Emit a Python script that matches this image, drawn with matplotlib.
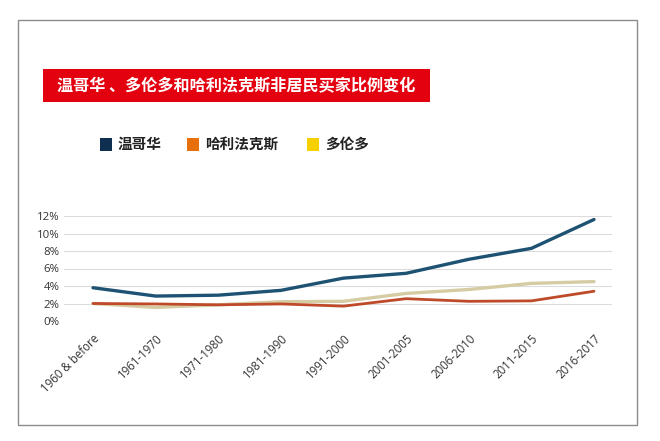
import numpy as np
import matplotlib
matplotlib.use('Agg')
import matplotlib.pyplot as plt
from matplotlib.patches import Rectangle
from matplotlib.transforms import ScaledTranslation

plt.rcParams['font.family'] = ['Noto Sans CJK SC', 'DejaVu Sans']

TITLE = '温哥华 、多伦多和哈利法克斯非居民买家比例变化'
PERIODS = ['1960 & before', '1961-1970', '1971-1980', '1981-1990', '1991-2000',
           '2001-2005', '2006-2010', '2011-2015', '2016-2017']
VANCOUVER = [3.8, 2.85, 2.95, 3.5, 4.9, 5.45, 7.05, 8.3, 11.6]
HALIFAX = [2.0, 1.95, 1.85, 1.95, 1.7, 2.55, 2.25, 2.3, 3.4]
TORONTO = [2.0, 1.55, 1.85, 2.2, 2.25, 3.15, 3.6, 4.3, 4.5]
LEGEND_NAMES = ['温哥华', '哈利法克斯', '多伦多']
YTICKS = [0, 2, 4, 6, 8, 10, 12]

LINE_COLORS = ['#1d5273', '#bf4a2a', '#d6cca3']
LEGEND_COLORS = ['#0e2f4f', '#e8700c', '#f7d000']

W, H = 660, 441
fig = plt.figure(figsize=(W / 100, H / 100), dpi=100)
fig.patch.set_facecolor('white')

# outer frame
fig.add_artist(Rectangle((18 / W, 1 - 425 / H), (637 - 18) / W, (425 - 20) / H,
                         transform=fig.transFigure, fill=False,
                         edgecolor='#8c8c8c', linewidth=1.0))

# red title bar
fig.add_artist(Rectangle((43 / W, 1 - 102 / H), (430 - 43) / W, 33 / H,
                         transform=fig.transFigure, facecolor='#e3000f',
                         edgecolor='none'))
fig.text(236 / W, 1 - 86 / H, TITLE, color='white', fontsize=11.6,
         fontweight='bold', ha='center', va='center')

# legend
leg_x = [100, 187, 307]
for name, col, x in zip(LEGEND_NAMES, LEGEND_COLORS, leg_x):
    fig.add_artist(Rectangle((x / W, 1 - 151 / H), 12 / W, 13 / H,
                             transform=fig.transFigure, facecolor=col,
                             edgecolor='none'))
    fig.text((x + 18) / W, 1 - 144 / H, name, fontsize=10.5, fontweight='bold',
             ha='left', va='center', color='#222222')

ax = fig.add_axes([64 / W, 1 - 321 / H, (612 - 64) / W, (321 - 216) / H])
x = np.arange(len(PERIODS))
ax.plot(x, TORONTO, color=LINE_COLORS[2], linewidth=2.4, solid_capstyle='round')
ax.plot(x, HALIFAX, color=LINE_COLORS[1], linewidth=2.0, solid_capstyle='round')
ax.plot(x, VANCOUVER, color=LINE_COLORS[0], linewidth=2.4, solid_capstyle='round')

sp = (594 - 93) / 8
ax.set_xlim(-(93 - 64) / sp, 8 + (612 - 594) / sp)
ax.set_ylim(0, 12)
ax.set_yticks(YTICKS)
ax.set_yticklabels([f'{v}%' for v in YTICKS], fontsize=8.2, color='#333333',
                   family=['Open Sans', 'DejaVu Sans'])
ax.set_xticks(x)
ax.set_xticklabels(PERIODS, rotation=45, ha='right', rotation_mode='anchor',
                   fontsize=8.3, color='#333333', family=['Open Sans', 'DejaVu Sans'])
shift = ScaledTranslation(9 / 100, 0, fig.dpi_scale_trans)
for lab in ax.get_xticklabels():
    lab.set_transform(lab.get_transform() + shift)
ax.tick_params(axis='both', length=0, pad=3)
ax.tick_params(axis='x', pad=8)
ax.grid(axis='y', color='#dcdcdc', linewidth=0.8)
ax.set_axisbelow(True)
for s in ax.spines.values():
    s.set_visible(False)

fig.savefig('out.png', dpi=100)
